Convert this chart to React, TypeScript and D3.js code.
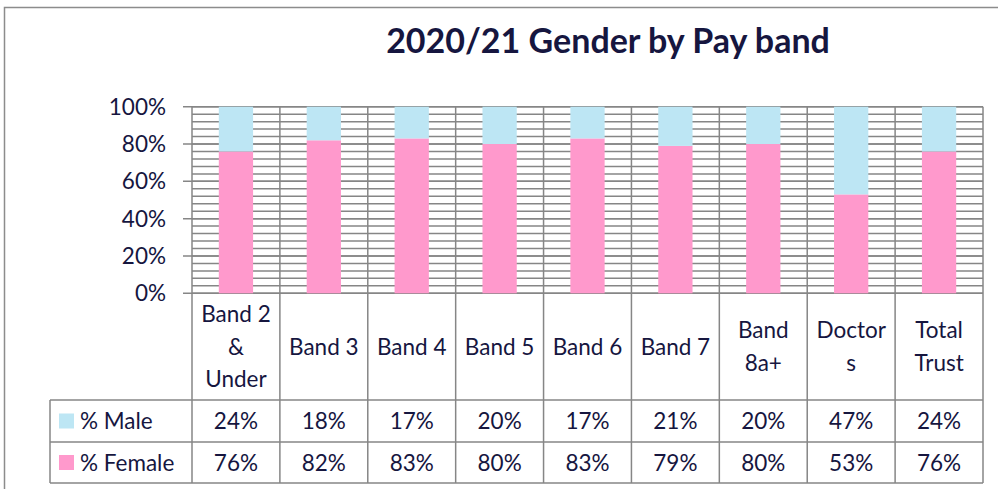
import React, { useRef, useEffect } from 'react';
import * as d3 from 'd3';

const title = '2020/21 Gender by Pay band';
const categories = ['Band 2 & Under', 'Band 3', 'Band 4', 'Band 5', 'Band 6', 'Band 7', 'Band 8a+', 'Doctors', 'Total Trust'];
// how Excel wrapped each header in the data table
const categoryLines = [['Band 2', '&', 'Under'], ['Band 3'], ['Band 4'], ['Band 5'], ['Band 6'], ['Band 7'], ['Band', '8a+'], ['Doctor', 's'], ['Total', 'Trust']];
const male = [24, 18, 17, 20, 17, 21, 20, 47, 24];
const female = [76, 82, 83, 80, 83, 79, 80, 53, 76];
const yTicks = [0, 20, 40, 60, 80, 100];
const series = [
  { key: 'female', label: '% Female', color: '#ff99cc', values: female },
  { key: 'male', label: '% Male', color: '#bde6f4', values: male },
];

function App() {
  const svgRef = useRef(null);

  useEffect(() => {
    document.body.style.margin = '0';
    const svg = d3.select(svgRef.current);
    svg.selectAll('*').remove();

    const W = 998, H = 489;
    const left = 192, right = 983, top = 106.7, bottom = 293.3;
    const rowMale = 400, rowFemale = 442, tableBottom = 483;
    const tableLeft = 50;
    const ink = '#16163f';
    const grid = '#868686';
    const font = 'Lato, Carlito, Calibri, sans-serif';
    const fs = 22.5;

    // chart frame
    svg.append('rect').attr('x', 4.5).attr('y', 7.5).attr('width', W + 10).attr('height', H + 10)
      .attr('fill', '#fff').attr('stroke', '#8c8c8c').attr('stroke-width', 1.5);

    svg.append('text').attr('x', 608).attr('y', 53).attr('text-anchor', 'middle')
      .attr('font-family', font).attr('font-weight', 'bold').attr('font-size', 34)
      .attr('fill', ink).text(title);

    const x = d3.scaleBand().domain(categories).range([left, right]).paddingInner(0).paddingOuter(0);
    const y = d3.scaleLinear().domain([0, 100]).range([bottom, top]);

    // minor gridlines every 4%
    const minor = d3.range(0, 101, 4);
    svg.append('g').selectAll('line').data(minor).join('line')
      .attr('x1', left).attr('x2', right)
      .attr('y1', (d) => y(d)).attr('y2', (d) => y(d))
      .attr('stroke', grid).attr('stroke-width', 1.5);

    // major gridlines and ticks
    svg.append('g').selectAll('line').data(yTicks).join('line')
      .attr('x1', left - 9).attr('x2', right)
      .attr('y1', (d) => y(d)).attr('y2', (d) => y(d))
      .attr('stroke', grid).attr('stroke-width', 1.5);

    // bars
    const data = categories.map((c, i) => ({ cat: c, female: female[i], male: male[i] }));
    const stack = d3.stack().keys(series.map((s) => s.key));
    const stacked = stack(data);
    const barW = x.bandwidth() * 0.39;
    stacked.forEach((layer, li) => {
      svg.append('g').selectAll('rect').data(layer).join('rect')
        .attr('x', (d) => x(d.data.cat) + (x.bandwidth() - barW) / 2)
        .attr('width', barW)
        .attr('y', (d) => y(d[1]))
        .attr('height', (d) => y(d[0]) - y(d[1]))
        .attr('fill', series[li].color);
    });

    // vertical lines: category boundaries through plot and table
    const bounds = categories.map((c) => x(c)).concat([right]);
    svg.append('g').selectAll('line').data(bounds).join('line')
      .attr('x1', (d) => d).attr('x2', (d) => d)
      .attr('y1', top).attr('y2', tableBottom)
      .attr('stroke', grid).attr('stroke-width', 1.5);

    // y tick labels
    svg.append('g').selectAll('text').data(yTicks).join('text')
      .attr('x', 166).attr('y', (d) => y(d) + 8)
      .attr('text-anchor', 'end').attr('font-family', font).attr('font-size', fs)
      .attr('fill', ink).text((d) => `${d}%`);

    // data table horizontal lines
    [rowMale, rowFemale, tableBottom].forEach((yy) => {
      svg.append('line').attr('x1', tableLeft).attr('x2', right).attr('y1', yy).attr('y2', yy)
        .attr('stroke', grid).attr('stroke-width', 1.5);
    });
    svg.append('line').attr('x1', tableLeft).attr('x2', tableLeft).attr('y1', rowMale).attr('y2', tableBottom)
      .attr('stroke', grid).attr('stroke-width', 1.5);

    // header labels
    const lineH = 32.5;
    categories.forEach((c, i) => {
      const lines = categoryLines[i];
      const cx = x(c) + x.bandwidth() / 2;
      const mid = (bottom + rowMale) / 2;
      const y0 = mid - ((lines.length - 1) * lineH) / 2 + 8;
      lines.forEach((ln, j) => {
        svg.append('text').attr('x', cx).attr('y', y0 + j * lineH)
          .attr('text-anchor', 'middle').attr('font-family', font).attr('font-size', fs)
          .attr('fill', ink).text(ln);
      });
    });

    // data rows with legend keys
    const rows = [
      { s: series[1], y0: rowMale, y1: rowFemale },
      { s: series[0], y0: rowFemale, y1: tableBottom },
    ];
    rows.forEach(({ s, y0, y1 }) => {
      const mid = (y0 + y1) / 2;
      svg.append('rect').attr('x', 59).attr('y', mid - 7.5).attr('width', 15).attr('height', 15).attr('fill', s.color);
      svg.append('text').attr('x', 80).attr('y', mid + 8).attr('font-family', font).attr('font-size', fs)
        .attr('fill', ink).text(s.label);
      svg.append('g').selectAll('text').data(s.values).join('text')
        .attr('x', (d, i) => x(categories[i]) + x.bandwidth() / 2)
        .attr('y', mid + 8)
        .attr('text-anchor', 'middle').attr('font-family', font).attr('font-size', fs)
        .attr('fill', ink).text((d) => `${d}%`);
    });
  }, []);

  return <svg ref={svgRef} width={998} height={489} style={{ display: 'block' }}></svg>;
}

export default App;
